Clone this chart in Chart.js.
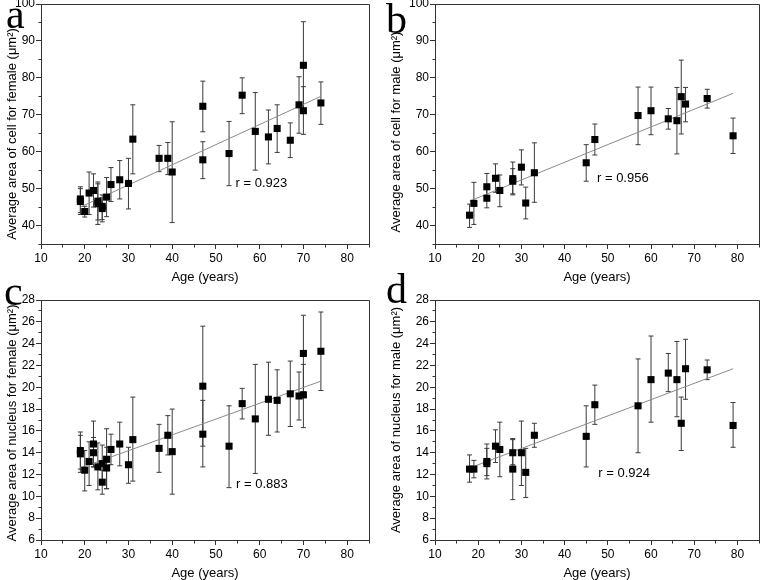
<!DOCTYPE html>
<html>
<head>
<meta charset="utf-8">
<script src="https://cdn.jsdelivr.net/npm/chart.js@4.4.1/dist/chart.umd.min.js"></script>
<style>
  html, body { margin: 0; padding: 0; background: #fff; }
  #wrap { position: relative; width: 764px; height: 580px; overflow: hidden; background: #fff; }
  #wrap canvas { position: absolute; }
  .tag { position: absolute; font-family: 'Liberation Serif', 'Times New Roman', serif; font-size: 42px; line-height: 42px; color: #000; }
</style>
</head>
<body>
<div id="wrap">
  <canvas id="chartA" width="382" height="294" style="left:0;top:-6px"></canvas>
  <canvas id="chartB" width="382" height="294" style="left:382px;top:-6px"></canvas>
  <canvas id="chartC" width="382" height="300" style="left:0;top:280px"></canvas>
  <canvas id="chartD" width="382" height="300" style="left:382px;top:280px"></canvas>
  <div class="tag" style="left:6px;top:-7px">a</div>
  <div class="tag" style="left:386px;top:-2px">b</div>
  <div class="tag" style="left:4px;top:270px">c</div>
  <div class="tag" style="left:386px;top:268px">d</div>
</div>
<script>
Chart.defaults.font.family = "'Liberation Sans', Arial, sans-serif";
Chart.defaults.color = '#000';

// a: cell area, female
var ageA  = [19, 19, 20, 21, 22, 23, 23, 24, 24, 25, 26, 28, 30, 31, 37, 39, 40, 47, 47, 53, 56, 59, 62, 64, 67, 69, 70, 70, 74];
var meanA = [47.2, 46.5, 43.8, 48.8, 49.5, 46.6, 45.9, 45.2, 44.6, 47.7, 51.1, 52.4, 51.4, 63.4, 58.2, 58.2, 54.5, 72.3, 57.8, 59.5, 75.3, 65.5, 64.0, 66.3, 63.1, 72.7, 83.4, 71.1, 73.2];
var lowA  = [43.5, 43.0, 42.3, 43.0, 45.0, 41.5, 40.3, 41.6, 41.0, 42.4, 46.5, 47.2, 44.5, 54.0, 54.6, 53.8, 40.8, 65.4, 52.7, 50.8, 70.3, 55.0, 56.7, 59.8, 58.4, 65.0, 71.6, 64.7, 67.4];
var highA = [50.5, 50.0, 45.2, 54.5, 54.0, 51.8, 51.3, 48.3, 47.6, 53.0, 55.7, 57.6, 58.2, 72.7, 61.7, 62.5, 68.1, 79.1, 62.7, 68.2, 80.0, 76.0, 71.3, 72.7, 67.8, 80.3, 95.2, 77.6, 78.9];
var fitA  = [[19, 45.0], [74, 75.0]];

// b: cell area, male
var ageB  = [18, 19, 22, 22, 24, 25, 28, 28, 30, 31, 33, 45, 47, 57, 60, 64, 66, 67, 68, 73, 79];
var meanB = [42.8, 46.0, 50.5, 47.4, 52.8, 49.5, 52.7, 52.0, 55.8, 46.1, 54.3, 57.0, 63.3, 69.8, 71.1, 68.9, 68.4, 74.9, 72.9, 74.4, 64.3];
var lowB  = [39.5, 40.3, 46.9, 44.8, 49.0, 45.1, 48.3, 48.6, 51.0, 41.8, 46.3, 52.0, 59.1, 61.9, 64.6, 66.1, 59.4, 64.8, 68.1, 71.8, 59.5];
var highB = [45.8, 51.7, 54.1, 50.0, 56.7, 53.7, 57.2, 55.4, 60.5, 50.4, 62.4, 61.9, 67.5, 77.5, 77.5, 71.7, 77.4, 84.8, 77.4, 76.9, 69.1];
var fitB  = [[18, 46.6], [79, 75.8]];

// c: nucleus area, female
var ageC  = [19, 19, 20, 21, 22, 22, 23, 24, 24, 25, 25, 26, 28, 30, 31, 37, 39, 40, 47, 47, 53, 56, 59, 62, 64, 67, 69, 70, 70, 74];
var meanC = [14.2, 13.9, 12.4, 13.2, 14.8, 14.0, 12.7, 13.0, 11.3, 13.4, 12.6, 14.3, 14.8, 12.9, 15.2, 14.4, 15.6, 14.1, 20.1, 15.7, 14.6, 18.5, 17.1, 18.9, 18.8, 19.4, 19.2, 23.1, 19.3, 23.3];
var lowC  = [12.2, 12.5, 10.5, 11.0, 12.7, 12.7, 10.6, 11.3, 10.2, 10.7, 10.7, 12.9, 12.8, 11.2, 11.4, 12.2, 13.8, 10.2, 14.6, 12.7, 10.8, 17.1, 12.1, 15.6, 15.9, 16.4, 17.0, 19.6, 16.3, 19.7];
var highC = [15.9, 15.6, 14.2, 15.0, 16.9, 15.4, 14.9, 14.7, 12.4, 16.2, 14.5, 15.7, 16.8, 14.5, 19.1, 16.6, 17.4, 18.0, 25.6, 18.8, 18.3, 19.9, 22.1, 22.3, 21.6, 22.4, 21.4, 26.6, 22.1, 26.9];
var fitC  = [[19, 12.6], [74, 20.56]];

// d: nucleus area, male
var ageD  = [18, 19, 22, 22, 24, 25, 28, 28, 30, 31, 33, 45, 47, 57, 60, 64, 66, 67, 68, 73, 79];
var meanD = [12.5, 12.5, 13.2, 13.0, 14.6, 14.3, 14.0, 12.5, 14.0, 12.2, 15.6, 15.5, 18.4, 18.3, 20.7, 21.3, 20.7, 16.7, 21.7, 21.6, 16.5];
var lowD  = [11.3, 11.7, 11.6, 11.9, 13.1, 11.8, 12.9, 9.7, 11.0, 9.9, 14.5, 12.7, 16.6, 14.0, 16.8, 19.6, 17.3, 14.2, 18.9, 20.7, 14.5];
var highD = [13.8, 13.3, 14.8, 14.4, 16.1, 16.8, 15.3, 15.2, 16.9, 14.4, 16.7, 18.3, 20.2, 22.6, 24.7, 23.1, 24.2, 19.1, 24.4, 22.5, 18.6];
var fitD  = [[18, 12.6], [79, 21.7]];

var axisColor = '#333';
var font13 = "13px 'Liberation Sans', Arial, sans-serif";

function align(p) { return Math.round(p - 0.5) + 0.5; }

// error bars, box frame, minor ticks, y title and the r label
var panelExtras = {
    id: 'panelExtras',
    beforeDatasetsDraw: function (chart, args, opts) {
        var ctx = chart.ctx, x = chart.scales.x, y = chart.scales.y;
        var pts = chart.data.datasets[0].data;
        ctx.save();
        ctx.strokeStyle = '#3a3a3a';
        ctx.lineWidth = 1;
        pts.forEach(function (p, i) {
            var px = x.getPixelForValue(p.x);
            var lo = y.getPixelForValue(opts.low[i]);
            var hi = y.getPixelForValue(opts.high[i]);
            ctx.beginPath();
            ctx.moveTo(px, lo); ctx.lineTo(px, hi);
            ctx.moveTo(px - 2.5, lo); ctx.lineTo(px + 2.5, lo);
            ctx.moveTo(px - 2.5, hi); ctx.lineTo(px + 2.5, hi);
            ctx.stroke();
        });
        ctx.restore();
    },
    afterDraw: function (chart, args, opts) {
        var ctx = chart.ctx, ca = chart.chartArea, x = chart.scales.x, y = chart.scales.y;
        ctx.save();
        ctx.strokeStyle = axisColor;
        ctx.lineWidth = 1;
        ctx.beginPath();
        ctx.moveTo(align(ca.left), align(ca.top));
        ctx.lineTo(align(ca.right), align(ca.top));
        ctx.lineTo(align(ca.right), align(ca.bottom));
        // minor ticks half way between the labelled ones
        var xt = x.ticks, sx = xt[1].value - xt[0].value;
        for (var v = xt[0].value - sx / 2; v <= x.max + 1e-9; v += sx) {
            if (v < x.min) continue;
            var px = align(x.getPixelForValue(v));
            ctx.moveTo(px, align(ca.bottom)); ctx.lineTo(px, align(ca.bottom) + 3);
        }
        var yt = y.ticks, sy = yt[1].value - yt[0].value;
        for (var w = yt[0].value - sy / 2; w <= y.max + 1e-9; w += sy) {
            if (w < y.min) continue;
            var py = align(y.getPixelForValue(w));
            ctx.moveTo(align(ca.left), py); ctx.lineTo(align(ca.left) - 3, py);
        }
        ctx.stroke();
        ctx.fillStyle = '#000';
        ctx.font = font13;
        ctx.textAlign = 'left';
        ctx.textBaseline = 'middle';
        ctx.fillText(opts.label.text, x.getPixelForValue(opts.label.x), y.getPixelForValue(opts.label.y));
        // y axis title, rotated
        ctx.translate(y.left + 6.5, (ca.top + ca.bottom) / 2 + opts.titleShift);
        ctx.rotate(-Math.PI / 2);
        ctx.textAlign = 'center';
        ctx.fillText(opts.yTitle, 0, 0);
        ctx.restore();
    }
};

function makePanel(id, p) {
    var pts = p.age.map(function (a, i) { return {x: a, y: p.mean[i]}; });
    var line = p.fit.map(function (f) { return {x: f[0], y: f[1]}; });
    return new Chart(document.getElementById(id), {
        type: 'scatter',
        data: {
            datasets: [{
                data: pts,
                pointStyle: 'rect',
                pointRadius: 5,
                backgroundColor: '#000',
                borderWidth: 0
            }, {
                data: line,
                showLine: true,
                borderColor: '#8a8a8a',
                borderWidth: 1,
                pointRadius: 0
            }]
        },
        options: {
            responsive: false,
            animation: false,
            devicePixelRatio: 1,
            layout: {padding: p.pad},
            plugins: {
                legend: {display: false},
                tooltip: {enabled: false},
                panelExtras: {low: p.low, high: p.high, label: p.label, yTitle: p.yTitle, titleShift: p.titleShift}
            },
            scales: {
                x: {
                    type: 'linear', min: 10, max: 85,
                    afterFit: function (s) { s.height = 40; },
                    ticks: {stepSize: 10, includeBounds: false, padding: 2, color: '#000', font: {size: 12}},
                    grid: {drawOnChartArea: false, drawTicks: true, tickLength: 5, color: axisColor, tickColor: axisColor},
                    border: {display: true, color: axisColor},
                    title: {display: true, text: 'Age (years)', color: '#000', font: {size: 13, lineHeight: 1}, padding: 0}
                },
                y: {
                    type: 'linear', min: p.yMin, max: p.yMax,
                    afterFit: function (s) { s.width = p.yWidth; },
                    ticks: {stepSize: p.yStep, includeBounds: false, padding: 1, color: '#000', font: {size: 12}},
                    grid: {drawOnChartArea: false, drawTicks: true, tickLength: 5, color: axisColor, tickColor: axisColor},
                    border: {display: true, color: axisColor},
                    title: {display: false}
                }
            }
        },
        plugins: [panelExtras]
    });
}

makePanel('chartA', {
    age: ageA, mean: meanA, low: lowA, high: highA, fit: fitA,
    yMin: 35, yMax: 100, yStep: 10, yWidth: 35,
    yTitle: 'Average area of cell for female (\u03bcm\u00b2)', titleShift: 10,
    label: {text: 'r = 0.923', x: 54.5, y: 51.5},
    pad: {left: 6, top: 10, right: 13, bottom: 4}
});
makePanel('chartB', {
    age: ageB, mean: meanB, low: lowB, high: highB, fit: fitB,
    yMin: 35, yMax: 100, yStep: 10, yWidth: 45,
    yTitle: 'Average area of cell for male (\u03bcm\u00b2)', titleShift: 8,
    label: {text: 'r = 0.956', x: 47.5, y: 52.8},
    pad: {left: 8, top: 10, right: 1, bottom: 4}
});
makePanel('chartC', {
    age: ageC, mean: meanC, low: lowC, high: highC, fit: fitC,
    yMin: 6, yMax: 28, yStep: 2, yWidth: 35,
    yTitle: 'Average area of nucleus for female (\u03bcm\u00b2)', titleShift: 3,
    label: {text: 'r = 0.883', x: 54.6, y: 11.05},
    pad: {left: 6, top: 20, right: 13, bottom: 0}
});
makePanel('chartD', {
    age: ageD, mean: meanD, low: lowD, high: highD, fit: fitD,
    yMin: 6, yMax: 28, yStep: 2, yWidth: 45,
    yTitle: 'Average area of nucleus for male (\u03bcm\u00b2)', titleShift: 0,
    label: {text: 'r = 0.924', x: 47.8, y: 12.1},
    pad: {left: 8, top: 20, right: 1, bottom: 0}
});
</script>
</body>
</html>
